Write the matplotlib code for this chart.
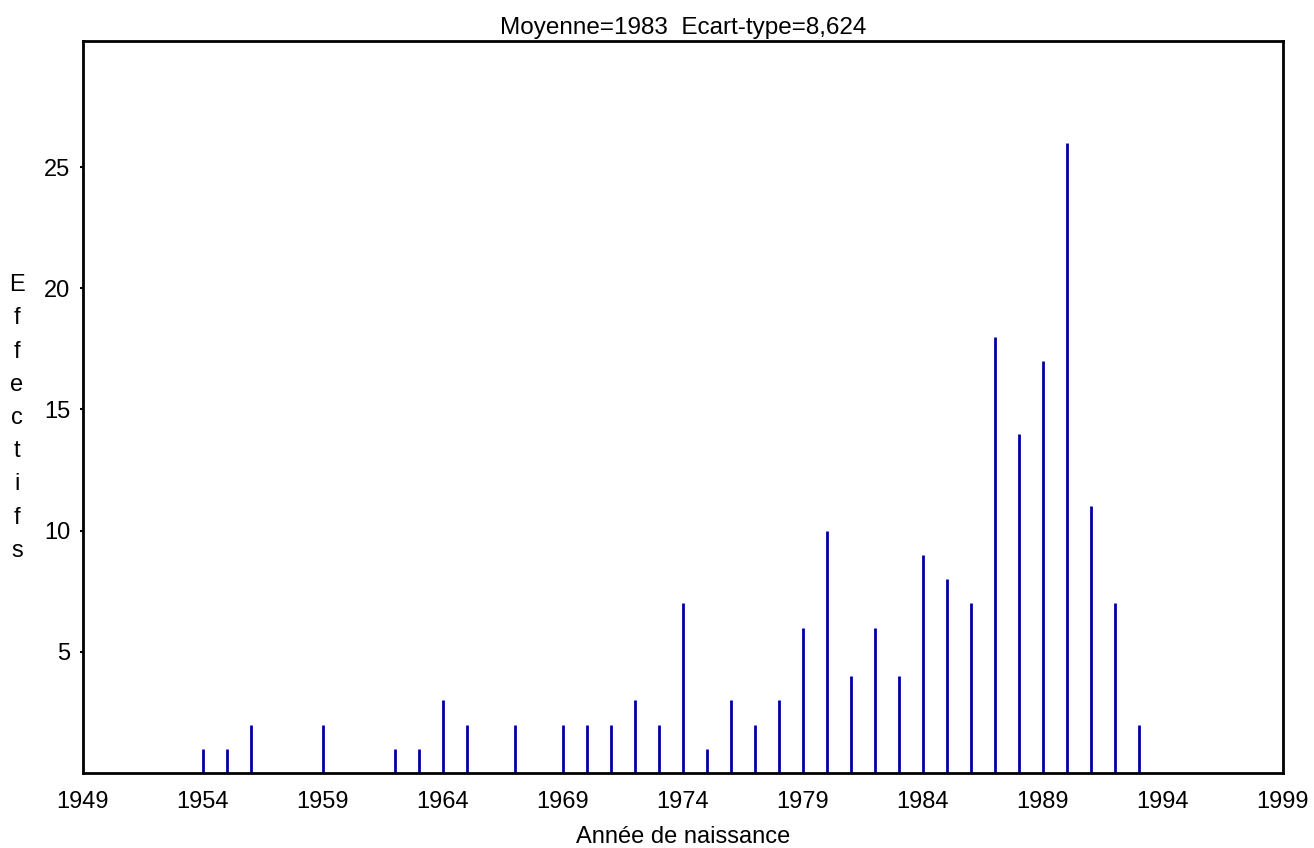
import matplotlib.pyplot as plt

years = [1954, 1955, 1956, 1959, 1962, 1963, 1964, 1965, 1967, 1969, 1970,
         1971, 1972, 1973, 1974, 1975, 1976, 1977, 1978, 1979, 1980, 1981,
         1982, 1983, 1984, 1985, 1986, 1987, 1988, 1989, 1990, 1991, 1992, 1993]
counts = [1, 1, 2, 2, 1, 1, 3, 2, 2, 2, 2,
          2, 3, 2, 7, 1, 3, 2, 3, 6, 10, 4,
          6, 4, 9, 8, 7, 18, 14, 17, 26, 11, 7, 2]
xticks = list(range(1949, 2000, 5))
yticks = [5, 10, 15, 20, 25]

plt.rcParams['font.family'] = ['Liberation Sans', 'DejaVu Sans']

fig = plt.figure(figsize=(13.14, 8.48), dpi=100)
ax = fig.add_axes([83 / 1314, 1 - 773 / 848, 1200 / 1314, 732 / 848])

ax.vlines(years, 0, counts, colors='#0000a0', linewidth=2)

ax.set_xlim(1949, 1999)
ax.set_ylim(0, 30.2)
ax.set_xticks(xticks)
ax.set_yticks(yticks)
ax.tick_params(axis='x', length=0, pad=13, labelsize=17)
ax.tick_params(axis='y', length=2, width=1.5, pad=7, labelsize=17)
for s in ax.spines.values():
    s.set_linewidth(2)

ax.set_title('Moyenne=1983  Ecart-type=8,624', fontsize=17.5, pad=5)
ax.set_xlabel('Année de naissance', fontsize=17, labelpad=9)
fig.text(17 / 1314, 1 - 418 / 848, '\n'.join('Effectifs'), fontsize=17,
         ha='center', va='center', linespacing=1.66)

fig.savefig('out.png', dpi=100)
